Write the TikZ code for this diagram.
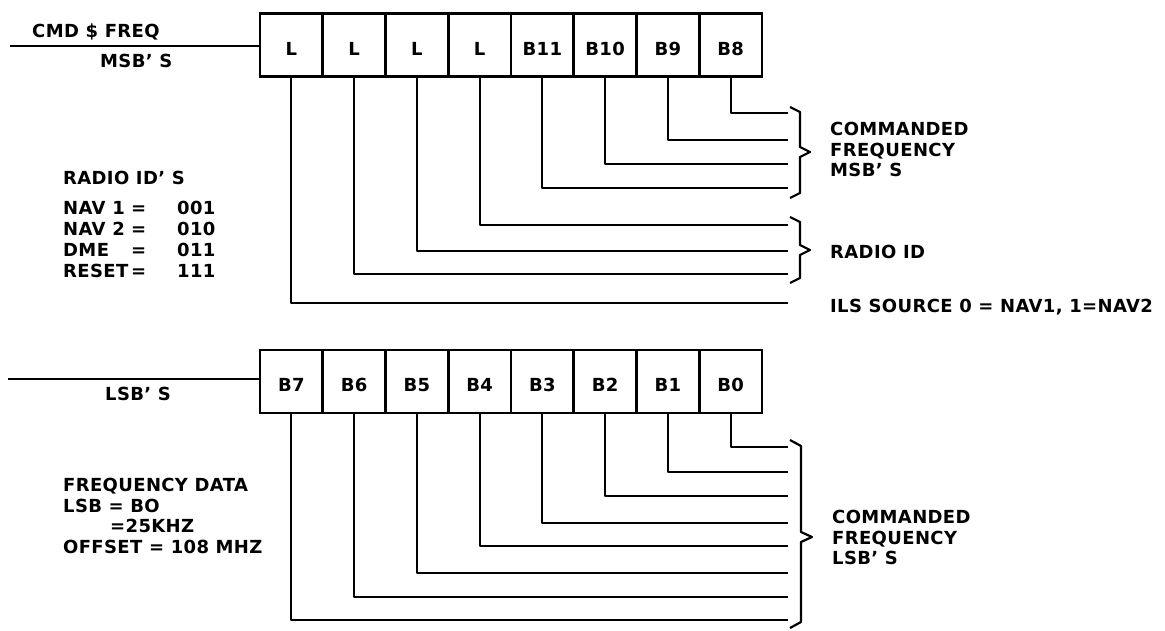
\documentclass[tikz,border=0pt]{standalone}
\usepackage{fontspec}
\setmainfont{DejaVu Sans}[LetterSpace=2]
\newcommand\dgfont{\fontsize{18}{20}\selectfont\bfseries}
\begin{document}
\begin{tikzpicture}[x=1pt,y=-1pt,
  bitbox/.style={draw,line width=2.6pt,minimum width=62.75pt,minimum height=63pt,inner sep=0pt,
                 text height=20pt,text depth=0pt,font=\dgfont},
  wire/.style={line width=2.2pt,line join=round},
  bracepath/.style={line width=2.2pt,line join=round},
  txt/.style={anchor=base west,inner sep=0pt,font=\dgfont}]
\useasboundingbox (0,0) rectangle (1165,630);
\fill[white] (0,0) rectangle (1165,630);

% ---------- top register ----------
\foreach \i/\t in {1/L,2/L,3/L,4/L,5/B11,6/B10,7/B9,8/B8}
  \node[bitbox] (t\i) at ({260+62.75*(\i-0.5)},45) {\t};

\coordinate (inT) at (10,46);
\draw[wire] (inT) -- (inT -| t1.west);
\node[txt] (cmd) at (32,37) {CMD \$ FREQ};
\node[txt] (msb) at (100,67) {MSB' S};

\foreach \i/\yy in {8/113,7/140,6/164,5/188,4/225,3/251,2/274,1/303}{
  \coordinate (te\i) at (788,\yy);
  \draw[wire] (t\i.south) |- (te\i);
}

\draw[bracepath] (790,107) -- (800,112) -- (800,147) -- (810,152) -- (800,157) -- (800,193) -- (790,198);
\draw[bracepath] (790,217) -- (800,222) -- (800,245) -- (810,250) -- (800,255) -- (800,278) -- (790,283);

\node[txt] (cf1) at (830,135) {COMMANDED};
\node[txt] (cf2) at (830,156) {FREQUENCY};
\node[txt] (cf3) at (830,176) {MSB' S};
\node[txt] (rid) at (830,258) {RADIO ID};
\node[txt] (ils) at (830,312) {ILS SOURCE 0 = NAV1, 1=NAV2};

\node[txt] (rids) at (63,184) {RADIO ID' S};
\node[txt] (n1) at (63,214) {NAV 1};
\node[txt] (n2) at (63,235) {NAV 2};
\node[txt] (n3) at (63,256) {DME};
\node[txt] (n4) at (63,277) {RESET};
\foreach \k/\yy in {1/214,2/235,3/256,4/277}
  \node[txt] (eq\k) at (131,\yy) {=};
\node[txt] (v1) at (177,214) {001};
\node[txt] (v2) at (177,235) {010};
\node[txt] (v3) at (177,256) {011};
\node[txt] (v4) at (177,277) {111};

% ---------- bottom register ----------
\foreach \i/\t in {1/B7,2/B6,3/B5,4/B4,5/B3,6/B2,7/B1,8/B0}
  \node[bitbox] (b\i) at ({260+62.75*(\i-0.5)},381.5) {\t};

\coordinate (inB) at (8,379);
\draw[wire] (inB) -- (inB -| b1.west);
\node[txt] (lsb) at (105,400) {LSB' S};

\foreach \i/\yy in {8/447,7/472,6/496,5/523,4/546,3/573,2/597,1/620}{
  \coordinate (be\i) at (788,\yy);
  \draw[wire] (b\i.south) |- (be\i);
}

\draw[bracepath] (790,440) -- (801,446) -- (801,532) -- (812,537) -- (801,542) -- (801,622) -- (790,628);

\node[txt] (lf1) at (832,523) {COMMANDED};
\node[txt] (lf2) at (832,544) {FREQUENCY};
\node[txt] (lf3) at (832,564) {LSB' S};

\node[txt] (fd1) at (63,491) {FREQUENCY DATA};
\node[txt] (fd2) at (63,512) {LSB = BO};
\node[txt] (fd3) at (110,532) {=25KHZ};
\node[txt] (fd4) at (63,553) {OFFSET = 108 MHZ};
\end{tikzpicture}
\end{document}
